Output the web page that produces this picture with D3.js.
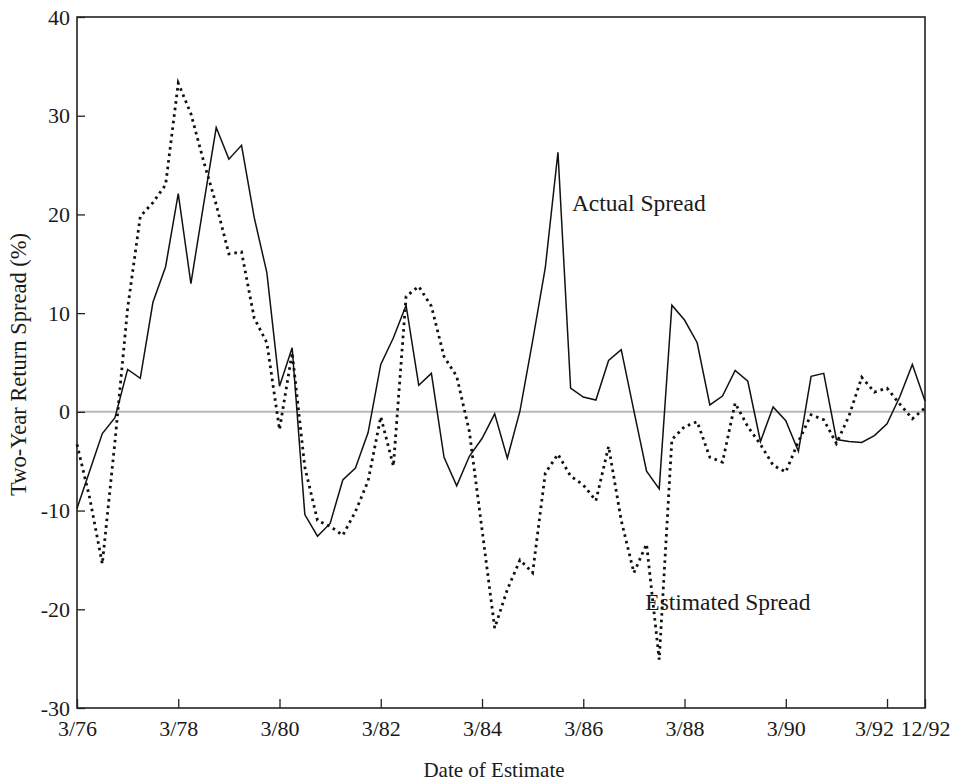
<!DOCTYPE html>
<html>
<head>
<meta charset="utf-8">
<script src="https://cdn.jsdelivr.net/npm/d3@7"></script>
<style>
  body { margin: 0; background: #fff; }
  svg text { font-family: "Liberation Serif", "DejaVu Serif", serif; fill: #1a1a1a; }
</style>
</head>
<body>
<div id="chart"></div>
<script>
// quarterly observations, 3/76 .. 12/92 (index 0 .. 67)
const actualSpread = [
  -9.8, -6.0, -2.2, -0.6, 4.3, 3.4, 11.1, 14.7, 22.1, 13.0,
  21.0, 28.8, 25.6, 27.0, 19.7, 14.1, 2.6, 6.5, -10.4, -12.6,
  -11.3, -6.9, -5.7, -2.1, 4.8, 7.5, 10.8, 2.7, 3.9, -4.6,
  -7.5, -4.5, -2.7, -0.2, -4.7, 0.1, 7.2, 14.6, 26.3, 2.4,
  1.5, 1.2, 5.2, 6.3, 0.1, -6.0, -7.8, 10.8, 9.3, 7.0,
  0.7, 1.6, 4.2, 3.1, -3.0, 0.5, -0.9, -4.0, 3.6, 3.9,
  -2.8, -3.0, -3.1, -2.4, -1.2, 1.5, 4.8, 1.1
];
const estimatedSpread = [
  -3.3, -8.7, -15.4, -3.0, 10.5, 19.8, 21.2, 23.0, 33.3, 30.2,
  25.4, 21.0, 16.0, 16.2, 9.5, 7.0, -1.8, 6.0, -5.6, -11.0,
  -11.6, -12.5, -10.1, -7.0, -0.5, -5.5, 11.7, 12.7, 10.7, 5.6,
  3.6, -2.0, -11.9, -21.9, -18.0, -15.0, -16.3, -6.2, -4.3, -6.5,
  -7.4, -9.0, -3.5, -11.0, -16.3, -13.4, -25.1, -2.8, -1.5, -1.0,
  -4.6, -5.1, 0.9, -1.5, -3.3, -5.4, -6.1, -3.0, -0.3, -0.8,
  -3.2, -0.4, 3.5, 2.0, 2.4, 0.8, -0.7, 0.4
];
const xTickQuarters = [0, 8, 16, 24, 32, 40, 48, 56, 64, 67];
const xTickLabels = ["3/76", "3/78", "3/80", "3/82", "3/84", "3/86", "3/88", "3/90", "3/92", "12/92"];
const yTickValues = [-30, -20, -10, 0, 10, 20, 30, 40];

const width = 957, height = 782;
const margin = { top: 17, right: 32, bottom: 74, left: 77 };
const innerW = width - margin.left - margin.right;
const innerH = height - margin.top - margin.bottom;

const svg = d3.select("#chart").append("svg")
  .attr("width", width)
  .attr("height", height);

const g = svg.append("g")
  .attr("transform", `translate(${margin.left},${margin.top})`);

const x = d3.scaleLinear().domain([0, actualSpread.length - 1]).range([0, innerW]);
const y = d3.scaleLinear().domain([-30, 40]).range([innerH, 0]);

// zero reference line
g.append("line")
  .attr("x1", 0).attr("x2", innerW)
  .attr("y1", y(0)).attr("y2", y(0))
  .attr("stroke", "#b8b8b8")
  .attr("stroke-width", 2);

const yAxis = d3.axisLeft(y)
  .tickValues(yTickValues)
  .tickSize(-8)
  .tickPadding(7)
  .tickFormat(d => d < 0 ? "-" + Math.abs(d) : d);

g.append("g").call(yAxis)
  .call(s => s.select(".domain").remove())
  .call(s => s.selectAll("line").attr("stroke", "#222").attr("stroke-width", 1.3))
  .call(s => s.selectAll("text").style("font-size", "22px"));

const xAxis = d3.axisBottom(x)
  .tickValues(xTickQuarters)
  .tickSize(-9)
  .tickPadding(12)
  .tickFormat((d, i) => xTickLabels[i]);

g.append("g")
  .attr("transform", `translate(0,${innerH})`)
  .call(xAxis)
  .call(s => s.select(".domain").remove())
  .call(s => s.selectAll("line").attr("stroke", "#222").attr("stroke-width", 1.3))
  .call(s => s.selectAll("text").style("font-size", "22px")
    .attr("dx", (d, i) => xTickLabels[i] === "3/92" ? -13 : 0));

// frame
g.append("rect")
  .attr("width", innerW).attr("height", innerH)
  .attr("fill", "none")
  .attr("stroke", "#222")
  .attr("stroke-width", 1.6);

const line = d3.line()
  .x((d, i) => x(i))
  .y(d => y(d));

g.append("path")
  .datum(estimatedSpread)
  .attr("fill", "none")
  .attr("stroke", "#111")
  .attr("stroke-width", 2.8)
  .attr("stroke-dasharray", "2.6 4")
  .attr("d", line);

g.append("path")
  .datum(actualSpread)
  .attr("fill", "none")
  .attr("stroke", "#111")
  .attr("stroke-width", 1.5)
  .attr("stroke-linejoin", "miter")
  .attr("d", line);

g.append("text")
  .attr("x", x(39.1)).attr("y", y(20.3))
  .style("font-size", "23.5px")
  .text("Actual Spread");

g.append("text")
  .attr("x", x(44.9)).attr("y", y(-20.1))
  .style("font-size", "23.5px")
  .text("Estimated Spread");

svg.append("text")
  .attr("x", margin.left + innerW / 2 - 7)
  .attr("y", 777)
  .attr("text-anchor", "middle")
  .style("font-size", "21px")
  .text("Date of Estimate");

svg.append("text")
  .attr("transform", `translate(26,${margin.top + y(4.8)}) rotate(-90)`)
  .attr("text-anchor", "middle")
  .style("font-size", "22.5px")
  .text("Two-Year Return Spread (%)");
</script>
</body>
</html>
